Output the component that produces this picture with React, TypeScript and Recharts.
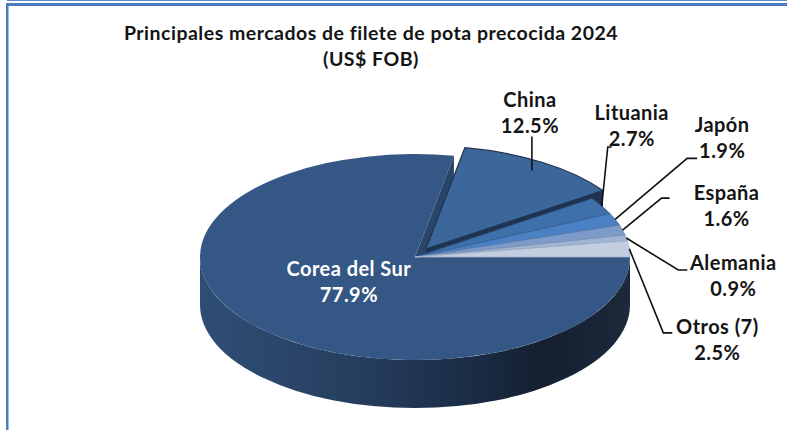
import React from 'react';
import { PieChart, Pie } from 'recharts';

// ---- data ----
const categories = ['Corea del Sur', 'China', 'Lituania', 'Japón', 'España', 'Alemania', 'Otros (7)'];
const shares = [77.9, 12.5, 2.7, 1.9, 1.6, 0.9, 2.5];
const titleLines = ['Principales mercados de filete de pota precocida 2024', '(US$ FOB)'];
const explodedCategory = 'China';

// ---- styles ----
const topColors = ['#345785', '#3c679b', '#3f70aa', '#4a80c4', '#7d9bc8', '#a0b4d4', '#c3cde0'];
const edgeColors = ['#2a4669', '#1f3452', '#2c5182', '#3a679f', '#6482ad', '#8498b8', '#a5b1c8'];
// label placement relative to the rim anchor of each slice: text centre, elbow, horizontal tail
const labelLayout: Record<string, { text: [number, number]; elbow: [number, number]; tail: number }> = {
  China: { text: [-2, -71], elbow: [0, -34], tail: 0 },
  Lituania: { text: [30, -93], elbow: [6, -59], tail: 4 },
  'Japón': { text: [107, -94], elbow: [72, -61], tail: 10 },
  'España': { text: [104, -37], elbow: [39, -32], tail: 8 },
  Alemania: { text: [107, 25], elbow: [52, 32], tail: 9 },
  'Otros (7)': { text: [88, 78], elbow: [34, 84], tail: 9 },
};

const data = categories.map((name, i) => ({ name, value: shares[i] }));

const K = 0.479; // vertical squash of the tilted pie
const DEPTH = 48; // thickness of the pie
const EXPLODE = 20;
const FONT = 'Lato, "Open Sans", sans-serif';
const LABEL_SIZE = 20;
const LABEL_SPACING = 0.45;

function pt(cx: number, cy: number, r: number, deg: number): [number, number] {
  const a = (deg * Math.PI) / 180;
  return [cx + r * Math.cos(a), cy - r * K * Math.sin(a)];
}

function sectorPath(cx: number, cy: number, r: number, start: number, end: number) {
  const [x1, y1] = pt(cx, cy, r, start);
  const [x2, y2] = pt(cx, cy, r, end);
  const large = Math.abs(end - start) > 180 ? 1 : 0;
  const sweep = end < start ? 1 : 0;
  return `M${cx},${cy} L${x1},${y1} A${r},${r * K} 0 ${large} ${sweep} ${x2},${y2} Z`;
}

function wallPath(cx: number, cy: number, r: number, hi: number, lo: number) {
  const [x1, y1] = pt(cx, cy, r, hi);
  const [x2, y2] = pt(cx, cy, r, lo);
  const large = hi - lo > 180 ? 1 : 0;
  return `M${x1},${y1} A${r},${r * K} 0 ${large} 1 ${x2},${y2} L${x2},${y2 + DEPTH} A${r},${r * K} 0 ${large} 0 ${x1},${y1 + DEPTH} Z`;
}

function origin(props: any): [number, number, number] {
  const { cx, cy, startAngle, endAngle, index } = props;
  const mid = props.midAngle ?? (startAngle + endAngle) / 2;
  let ox = 0;
  let oy = 0;
  if (categories[index] === explodedCategory) {
    const m = (mid * Math.PI) / 180;
    ox = EXPLODE * Math.cos(m);
    oy = -EXPLODE * K * Math.sin(m);
  }
  return [cx + ox, cy + oy, mid];
}

// side walls and exposed cut faces (drawn beneath all top surfaces)
function renderBody(props: any) {
  const { outerRadius: r, startAngle, endAngle, index } = props;
  const [x0, y0] = origin(props);
  const hi0 = Math.max(startAngle, endAngle);
  const lo0 = Math.min(startAngle, endAngle);
  const walls: [number, number][] = [];
  for (let k = -2; k <= 2; k++) {
    const lo = Math.max(lo0, -180 + 360 * k);
    const hi = Math.min(hi0, 360 * k);
    if (hi - lo > 0.01) walls.push([hi, lo]);
  }
  const exposedEnd =
    categories[index + 1] === explodedCategory || categories[index] === explodedCategory;
  let face: string | null = null;
  if (exposedEnd) {
    const [ex, ey] = pt(x0, y0, r, endAngle);
    face = `M${x0},${y0} L${ex},${ey} L${ex},${ey + DEPTH} L${x0},${y0 + DEPTH} Z`;
  }
  const gid = `wallGrad${index}`;
  const [cxp] = [props.cx];
  return (
    <g key={`body-${index}`}>
      <defs>
        <linearGradient id={gid} gradientUnits="userSpaceOnUse" x1={cxp - r} y1={0} x2={cxp + r} y2={0}>
          <stop offset="0" stopColor="#2f4e75" />
          <stop offset="0.35" stopColor="#263f60" />
          <stop offset="0.62" stopColor="#1b2d46" />
          <stop offset="0.8" stopColor="#141f2f" />
          <stop offset="1" stopColor="#1c2a3c" />
        </linearGradient>
      </defs>
      {walls.map(([hi, lo], j) => (
        <path key={j} d={wallPath(x0, y0, r, hi, lo)} fill={`url(#${gid})`} stroke="none" />
      ))}
      {face && <path d={face} fill={index === 0 ? '#29456a' : '#1e3350'} stroke="none" />}
    </g>
  );
}

function renderTop(props: any) {
  const { outerRadius: r, startAngle, endAngle, index } = props;
  const [x0, y0] = origin(props);
  return (
    <path
      key={`top-${index}`}
      d={sectorPath(x0, y0, r, startAngle, endAngle)}
      fill={topColors[index]}
      stroke={index === 0 ? 'none' : edgeColors[index]}
      strokeWidth={index === 1 ? 1.2 : 0.8}
      strokeLinejoin="round"
    />
  );
}

function Txt({ x, y, fill, children }: { x: number; y: number; fill: string; children: React.ReactNode }) {
  return (
    <text
      x={x}
      y={y}
      textAnchor="middle"
      fill={fill}
      fontFamily={FONT}
      fontWeight={700}
      fontSize={LABEL_SIZE}
      letterSpacing={LABEL_SPACING}
    >
      {children}
    </text>
  );
}

function renderText(props: any) {
  const { cx, cy, outerRadius: r, startAngle, endAngle, index, value } = props;
  const name = categories[index];
  const mid = props.midAngle ?? (startAngle + endAngle) / 2;
  const pct = `${Number(value).toFixed(1)}%`;
  if (index === 0) {
    const [tx, ty] = pt(cx, cy, r * 0.4, mid);
    return (
      <g key={`t-${index}`}>
        <Txt x={tx} y={ty - 7.5} fill="#ffffff">{name}</Txt>
        <Txt x={tx} y={ty + 18.5} fill="#ffffff">{pct}</Txt>
      </g>
    );
  }
  const lay = labelLayout[name];
  const [ax, ay] = pt(cx, cy, r, mid);
  const exX = ax + lay.elbow[0];
  const exY = ay + lay.elbow[1];
  const tx = ax + lay.text[0];
  const ty = ay + lay.text[1];
  return (
    <g key={`t-${index}`}>
      <polyline
        points={`${ax},${ay} ${exX},${exY} ${exX + lay.tail},${exY}`}
        fill="none"
        stroke="#111111"
        strokeWidth={1.6}
      />
      <Txt x={tx} y={ty + 7} fill="#141414">{name}</Txt>
      <Txt x={tx} y={ty + 33} fill="#141414">{pct}</Txt>
    </g>
  );
}

const pieGeometry = {
  data,
  dataKey: 'value',
  nameKey: 'name',
  cx: 415,
  cy: 257,
  outerRadius: 215,
  startAngle: 0,
  endAngle: -360,
  fill: 'none',
  stroke: 'none',
  labelLine: false,
};

export default function App() {
  return (
    <div style={{ position: 'absolute', left: 0, top: 0, width: 787, height: 430, background: '#ffffff', overflow: 'hidden' }}>
      <div style={{ position: 'absolute', left: 7, top: 0, width: 780, height: 1, background: '#5b8bcf' }} />
      <div style={{ position: 'absolute', left: 6, top: 3, width: 781, height: 3, background: '#4a7dc0' }} />
      <div style={{ position: 'absolute', left: 6, top: 3, width: 2, height: 427, background: '#4a7dc0' }} />
      <div style={{ position: 'absolute', left: 8, top: 6, width: 1, height: 424, background: '#9dbce6' }} />
      <svg style={{ position: 'absolute', left: 0, top: 0 }} width={787} height={90}>
        <text x={371} y={39.5} textAnchor="middle" fill="#141414" fontFamily={FONT} fontWeight={700} fontSize={19.5} letterSpacing={0.5}>
          {titleLines[0]}
        </text>
        <text x={371} y={66} textAnchor="middle" fill="#141414" fontFamily={FONT} fontWeight={700} fontSize={19.5} letterSpacing={0.5}>
          {titleLines[1]}
        </text>
      </svg>
      <div style={{ position: 'absolute', left: 0, top: 0 }}>
        <PieChart width={787} height={430} margin={{ top: 0, right: 0, bottom: 0, left: 0 }}>
          <Pie {...(pieGeometry as any)} isAnimationActive={false} label={renderBody} />
          <Pie {...(pieGeometry as any)} isAnimationActive={false} label={renderTop} />
          <Pie {...(pieGeometry as any)} isAnimationActive={false} label={renderText} />
        </PieChart>
      </div>
    </div>
  );
}
